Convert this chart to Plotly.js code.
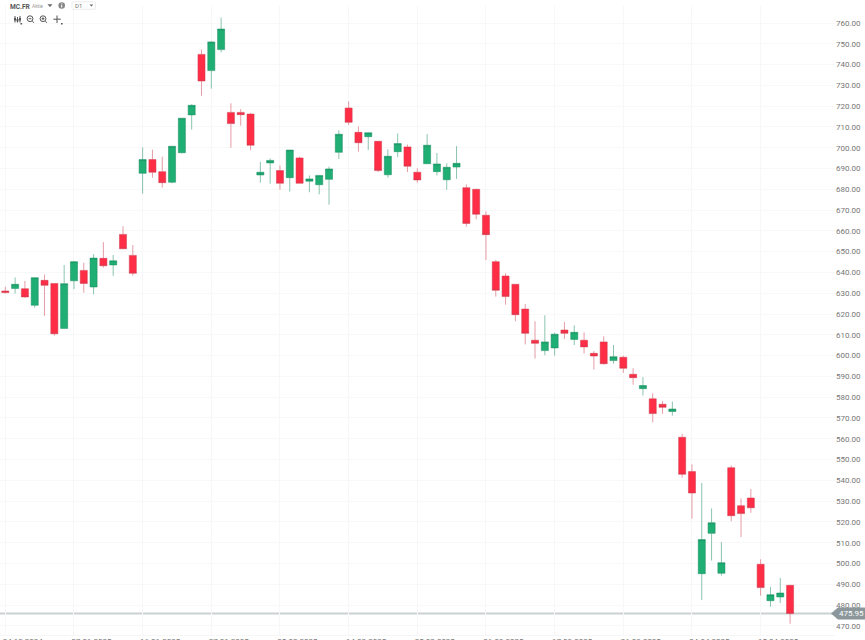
<!DOCTYPE html>
<html>
<head>
<meta charset="utf-8">
<script src="https://cdn.plot.ly/plotly-3.0.1.min.js"></script>
<style>
html,body{margin:0;padding:0;width:865px;height:640px;overflow:hidden;background:#fff;font-family:Roboto,sans-serif}
#chart{position:absolute;left:0;top:0;width:865px;height:640px}
#bar{position:absolute;left:0;top:0;width:120px;height:28px;pointer-events:none}
</style>
</head>
<body>
<div id="chart"></div>
<svg id="bar" viewBox="0 0 120 28">
  <text x="10" y="8.6" font-size="6.6" font-weight="700" fill="#555" font-family="Roboto">MC.FR</text>
  <text x="32" y="8.4" font-size="4.8" fill="#999" font-family="Roboto">Aktie</text>
  <path d="M47.5 4.3h5l-2.5 2.6z" fill="#666"/>
  <circle cx="61.7" cy="5.5" r="3.3" fill="#888"/>
  <rect x="61.2" y="4.9" width="1" height="2.6" fill="#fff"/>
  <rect x="61.2" y="3.4" width="1" height="0.9" fill="#fff"/>
  <rect x="72" y="1.8" width="23.5" height="7.5" rx="1" fill="#fff" stroke="#e4e4e4" stroke-width="0.7"/>
  <text x="75" y="8" font-size="6" fill="#777" font-family="Roboto">D1</text>
  <path d="M89.5 4.4h3.8l-1.9 2z" fill="#666"/>
  <g stroke="#555" stroke-width="1" fill="none">
    <path d="M15 16v6.5M17.5 17v5.5M20 16v6.5"/>
    <circle cx="30" cy="18.7" r="2.9"/><path d="M32.2 21l1.8 1.8M28.6 18.7h2.8"/>
    <circle cx="43" cy="18.7" r="2.9"/><path d="M45.2 21l1.8 1.8M41.6 18.7h2.8M43 17.3v2.8"/>
    <path d="M57 15.5v7.5M53.3 19.2h7.5"/>
  </g>
  <path d="M14 18h2v2.5h-2zM16.5 19h2v2.5h-2zM19 18h2v2.5h-2z" fill="#555"/>
  <path d="M20.5 23h1.6v1.4h-1.6zM61 23h1.6v1.4h-1.6z" fill="#555"/>
</svg>
<script>
const opens = [631.1,632.3,632.2,624.2,636.2,634.7,613.1,636,641,633,646.8,643.6,658.3,648.2,687.7,694.3,688.5,683.4,697.6,715.8,744.9,737.1,747.2,717,717,716.2,686.9,692.7,689,685.6,695.1,683.9,682.2,684.8,697.8,719.1,707.4,705.3,703.1,687,698.1,700.4,688.2,692.3,688.5,684.6,690.7,680.8,680,667.5,645.2,638.3,634.3,622.4,607.4,602.4,603.7,612.3,607.8,607.4,601.1,606.6,597.6,599.2,591,584.1,579.2,576.6,573.1,560.7,544.2,495.1,514.5,495.3,546.1,527.8,531.5,499.6,482.1,483.9,489.5];
const highs = [633.1,637.6,635.9,637.6,639,634.7,643.6,645.6,644.7,648.8,654.6,648.4,662.2,653.2,700.2,699.1,695.7,700.7,714.2,720.9,747.3,751.3,762.6,721.4,718.6,716.6,693.2,694.9,691.5,698.9,695.7,686.7,686.9,690.9,708.4,722.3,710.2,707.4,703.2,699.2,706.9,701.5,690.1,706.6,697.5,692.5,700.8,682.4,680.2,669.4,646,639.6,634.3,624.8,616.5,619.4,611,616.2,614.6,611.2,602.2,609.3,605.1,600,593.9,589.7,581.9,578.2,577.9,562.4,547.7,538.7,526.5,510.3,547.2,531.3,535.8,502,488.7,493,489.7];
const lows = [629.9,629.9,627.9,623,619.2,609.6,613.1,632,630.3,629.5,642.4,638.4,651.3,638.4,677.9,685.6,680.8,682.9,697.3,708.7,725,728.4,745.9,700,710.6,698.8,683.2,682.7,679.8,678.9,682.9,678.6,677.6,672.6,694.6,711,698.1,698.9,688.3,685.6,695.5,688.3,683.2,692.3,686.7,679.8,685,662,665.6,646,628.4,624.5,616.5,605.4,598.6,600.2,600,608,605.1,601,593.3,595.7,596.1,591.7,586,580.8,567.9,572,571.1,541.3,521.6,482.4,501.4,494.1,520.3,512.7,524.4,484.5,479.2,481,471];
const closes = [630.3,634.3,628.2,637.5,633.8,610.5,634.6,645.2,634.7,646.9,643.2,645.6,651.4,639.6,694.3,688.2,683.2,700.7,714.2,720.4,732.1,750.9,757.1,711.6,715.9,701.2,688.2,693.9,682.9,698.9,682.9,685,686.7,689.8,706.5,712.2,702.4,707.2,689,695.9,702,691.1,684.5,701.2,692.2,690.6,692.5,663.6,668,658.2,631.4,628.4,619.7,610.7,605.9,606.6,610.3,610.7,611.2,604.2,599.8,596.1,599.5,593.9,589.4,585.6,572.1,575.1,574.3,542.9,533.9,511.5,519.6,500.4,523,524,526.8,488.4,485,485.8,475.95];
const tickIndex = [0,7,14,21,28,35,42,49,56,63,70,77];
const tickDates = ["24.12.2024","07.01.2025","16.01.2025","27.01.2025","05.02.2025","14.02.2025","25.02.2025","06.03.2025","17.03.2025","26.03.2025","04.04.2025","15.04.2025"];
const priceTicks = [470,480,490,500,510,520,530,540,550,560,570,580,590,600,610,620,630,640,650,660,670,680,690,700,710,720,730,740,750,760];
const lastPrice = 475.95;
const lastLabel = "475.95";
const candleIndex = opens.map((_, i) => i);
const priceMin = 465.6, priceMax = 768.18;
const lastFrac = (lastPrice - priceMin) / (priceMax - priceMin);
const labelOffset = 1.78;

const green = '#1fae73', red = '#ff2d45';
const trace = {
  type: 'candlestick', x: candleIndex, open: opens, high: highs, low: lows, close: closes,
  whiskerwidth: 0, hoverinfo: 'skip',
  increasing: {fillcolor: green, line: {color: 'rgba(25,140,95,0.5)', width: 1}},
  decreasing: {fillcolor: red, line: {color: 'rgba(205,60,80,0.5)', width: 1}}
};
const layout = {
  width: 865, height: 640, showlegend: false, dragmode: false,
  margin: {l: 0, r: 30, t: 6, b: 5, pad: 0},
  paper_bgcolor: '#fff', plot_bgcolor: '#fff',
  font: {family: 'Roboto, sans-serif', size: 8, color: '#777'},
  boxgap: 0.28, boxgroupgap: 0,
  xaxis: {
    type: 'linear', range: [-0.54, 84.58], rangeslider: {visible: false},
    tickmode: 'array', tickvals: tickIndex.map(i => i + labelOffset), ticktext: tickDates, ticklabelstandoff: -2,
    showgrid: false, zeroline: false,
    minor: {tickmode: 'array', tickvals: tickIndex, showgrid: true, gridcolor: '#f7f7f7', gridwidth: 1, ticks: ''},
    showline: true, linecolor: '#f6f6f6', linewidth: 1, ticks: '', tickangle: 0,
    tickfont: {size: 8, color: '#777'}, fixedrange: true
  },
  yaxis: {
    side: 'right', range: [priceMin, priceMax],
    tickmode: 'array', tickvals: priceTicks, tickformat: '.2f',
    showgrid: true, gridcolor: '#f8f8f8', gridwidth: 1, zeroline: false,
    showline: false, ticks: '', tickfont: {size: 8, color: '#777'}, fixedrange: true
  },
  shapes: [
    {type: 'line', xref: 'paper', x0: 0, x1: 1, yref: 'paper', y0: lastFrac, y1: lastFrac,
     line: {color: '#c9d1d1', width: 2}, layer: 'below'},
    {type: 'path', xref: 'paper', xanchor: 1, xsizemode: 'pixel', yref: 'paper', yanchor: lastFrac, ysizemode: 'pixel',
     path: 'M -4 0 L 3 -6 L 30 -6 L 30 6 L 3 6 Z', fillcolor: '#8c979b', line: {width: 0}, layer: 'above'}
  ],
  annotations: [
    {xref: 'paper', x: 1, xanchor: 'left', xshift: 3, yref: 'paper', y: lastFrac, yanchor: 'middle',
     text: lastLabel, showarrow: false, font: {size: 8, color: '#fff'}, borderpad: 0}
  ]
};
Plotly.newPlot('chart', [trace], layout, {displayModeBar: false, staticPlot: true});
</script>
</body>
</html>
